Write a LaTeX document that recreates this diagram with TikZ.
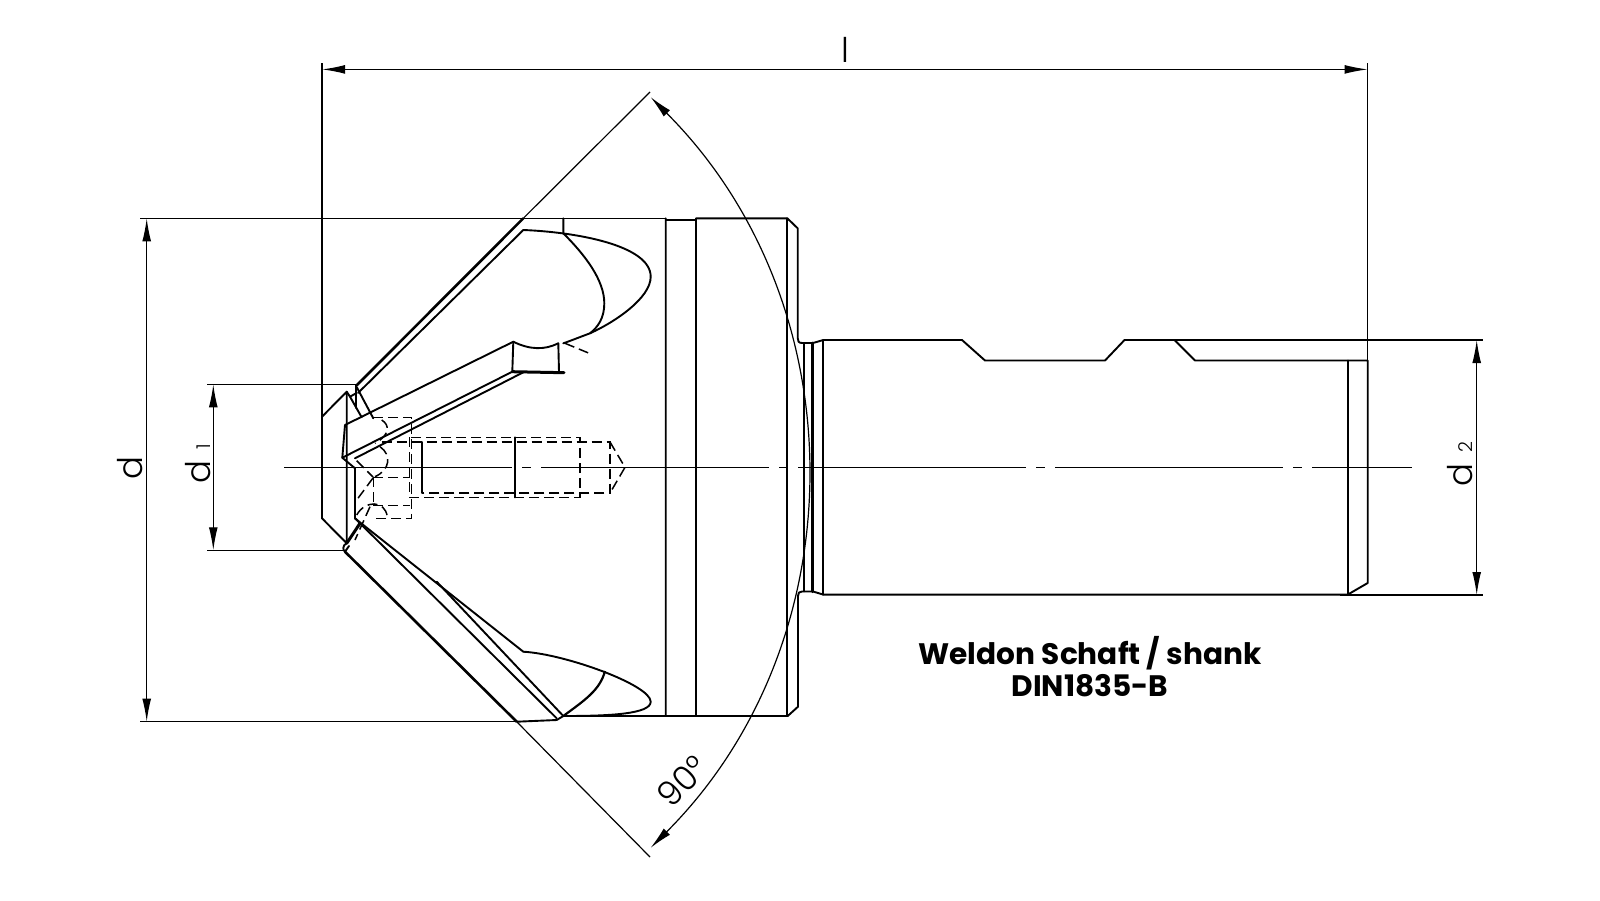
\documentclass[tikz,border=0pt]{standalone}
\usepackage{fontspec}
\setmainfont{Poppins}
\newfontfamily\lightfont{Poppins Light}
\usetikzlibrary{arrows.meta}
\tikzset{
  part/.style={line width=0.95pt,line join=round,line cap=round},
  heavy/.style={line width=1.5pt,line cap=round},
  dim/.style={line width=0.6pt},
  dimarrow/.style={dim,{Latex[length=11.5pt,width=4.4pt]}-{Latex[length=11.5pt,width=4.4pt]}},
  hidden/.style={line width=0.75pt,dash pattern=on 5pt off 2.5pt},
  axis/.style={line width=0.6pt,dash pattern=on 114pt off 5pt on 4.5pt off 5pt},
  dimlabel/.style={font=\lightfont\fontsize{17}{17}\selectfont,inner sep=0pt},
  caption/.style={font=\bfseries\fontsize{14.8}{16}\selectfont,inner sep=0pt}
}
\begin{document}
\begin{tikzpicture}[x=0.5pt,y=-0.5pt]
\useasboundingbox (0,0) rectangle (1600,900);
% reference points
\coordinate (lL) at (322,69.4);
\coordinate (lR) at (1367.7,69.4);
\coordinate (dT) at (146.7,218.3);
\coordinate (dB) at (146.7,721.7);
\coordinate (d1T) at (213.3,384.3);
\coordinate (d1B) at (213.3,550.3);
\coordinate (d2T) at (1476.7,340);
\coordinate (d2B) at (1476.7,595);
% axis
\draw[axis] (284,467.3) -- (1412,467.3);
% body
\draw[part] (665.7,218.3) -- (665.7,716) -- (696,716) -- (696,218.3) -- (787.3,218.3) -- (797.7,228.3) -- (797.7,338) .. controls (797.7,341) and (798.5,343) .. (802,343) -- (813,343) -- (823.3,340) -- (962,340) -- (985,360.5) -- (1105,360.5) -- (1124.5,340) -- (1174.5,340) -- (1195,360.5) -- (1367.7,360.5) -- (1367.7,583) -- (1347.7,594.6) -- (823.3,594.6) -- (813,591.5) -- (802,591.5) .. controls (799,591.5) and (798,593) .. (798,596) -- (798,706.7) -- (787.7,716) -- (696,716);
\draw[part] (665.7,220) -- (696,220);
\draw[part] (787.3,218.3) -- (787.3,716);
\draw[part] (1347.7,360.5) -- (1347.7,594.6);
\draw[part] (804.3,343) -- (804.3,591.5);
\draw[heavy] (812.3,343) -- (812.3,591.5);
\draw[part] (823.3,340) -- (823.3,594.6);
% upper flute
\draw[part] (523.3,230) .. controls (575,232) and (650.7,245) .. (650.7,276.7) .. controls (650.7,298) and (615,322) .. (590,333.3) .. controls (580,337) and (570,341) .. (563.3,343.3);
\draw[part] (558.3,343.3) .. controls (545,350) and (530,350) .. (513.3,341.7);
\draw[part] (563.3,218.3) -- (563.3,233.3) .. controls (585,255) and (604.3,280) .. (604.3,303.3) .. controls (604.3,318) and (598,327) .. (590,333.3);
\draw[part] (513.3,341.7) -- (512.3,371.7);
\draw[part] (558.3,343.3) -- (559,372);
\draw[heavy] (512.3,371.7) -- (564,372.7);
\draw[hidden] (565,343.3) -- (591.7,354.3);
% upper blade
\draw[part] (513.3,341.7) -- (345,425) -- (342.3,457.7) -- (512.3,371.7);
\draw[part] (355,458.3) -- (523.3,372.3);
\draw[part] (342.3,457.7) -- (355,468.3) -- (355,518.3);
\draw[part] (523.3,230) -- (358,393);
\draw[line width=1.3pt] (356.7,385.3) -- (523.3,218.3);
% tip
\draw[part] (322,416.7) -- (346.7,391.7) -- (346.7,543.3) -- (322,518.3) -- (322,416.7);
\draw[part] (356,385) -- (356,408);
\draw[part] (356.5,386.7) -- (373.3,418.3);
\draw[part] (346.7,391.7) -- (350,396.7) -- (356,393.3);
\draw[part] (350,396.7) -- (361.7,417.3);
\draw[heavy] (346.7,543.3) -- (360,523.3);
\draw[part] (346.7,543.3) .. controls (342,545) and (343,551) .. (345,551.7) -- (349,546);
% lower blade
\draw[part] (355,518.3) -- (363.3,525) -- (523.3,651.7);
\draw[part] (355,518.3) -- (556.7,718.3);
\draw[part] (436.7,581.7) -- (563.3,716);
\draw[line width=1.3pt] (345,551.7) -- (516.7,721.7);
\draw[part] (516.7,721.7) -- (556.7,720) -- (563.3,716);
% lower flute
\draw[part] (523.3,651.7) .. controls (565,654) and (650.7,685) .. (650.7,701.7) .. controls (650.7,714) and (610,716) .. (563.3,716);
\draw[part] (563.3,716) -- (665.7,716);
\draw[line width=1.1pt] (563.3,716) .. controls (585,700) and (600,690) .. (605,671);
% hidden detail
\draw[hidden] (409.3,437.3) rectangle (580,497.3);
\draw[hidden] (381.7,442) -- (610,442) -- (610,493) -- (421.7,493);
\draw[part] (421.7,442) -- (421.7,493);
\draw[part] (515,437.3) -- (515,497.3);
\draw[hidden] (610,442) -- (625,467.3) -- (610,493);
\draw[hidden] (373.3,417.3) -- (411.7,417.3) -- (411.7,518.3) -- (373.3,518.3);
\draw[hidden] (373.3,477.3) -- (410,477.3);
\draw[hidden] (373.3,505.7) -- (410,505.7);
\draw[hidden] (373.3,477.3) -- (373.3,505.7);
\draw[hidden] (381.7,420) .. controls (390,425) and (390,435) .. (375,443.3);
\draw[hidden] (380,446.7) .. controls (392,455) and (390,470) .. (375,476.7);
\draw[hidden] (356.7,460.7) -- (373,477);
\draw[hidden] (373,478) -- (356.7,500);
\draw[hidden] (356.7,515) .. controls (365,500) and (385,500) .. (387.3,516.7);
\draw[hidden] (370,506.7) -- (355,540);
% extension lines
\draw[dim] (322,63) -- (322,416.7);
\draw[dim] (1367.7,63) -- (1367.7,360.5);
\draw[dim] (140,218.3) -- (665.7,218.3);
\draw[dim] (140,721.7) -- (516.7,721.7);
\draw[dim] (207,384.3) -- (356,384.3);
\draw[dim] (207,550.3) -- (345,550.3);
\draw[dim] (1174,340) -- (1483,340);
\draw[dim] (1340,595) -- (1483,595);
\draw[dim] (523.3,218.3) -- (650,92);
\draw[dim] (516.7,721.7) -- (650,857);
% dimension lines
\draw[dimarrow] (lL) -- (lR);
\draw[dimarrow] (dT) -- (dB);
\draw[dimarrow] (d1T) -- (d1B);
\draw[dimarrow] (d2T) -- (d2B);
\draw[dimarrow] (650.5,97) arc[start angle=-45,end angle=45,radius=531];
% labels
\node[dimlabel] (ll) at (845,50) {l};
\node[dimlabel,rotate=90] (ld) at (130,468) {d};
\node[dimlabel,rotate=90] (ld1) at (198,464) {d\,{\fontsize{9.5}{9.5}\selectfont\ 1}};
\node[dimlabel,rotate=90] (ld2) at (1460,464) {d\,{\fontsize{9.5}{9.5}\selectfont\ 2}};
\node[dimlabel,rotate=45] (la) at (682,781) {90°};
\node[caption] (c1) at (1090,653) {Weldon Schaft / shank};
\node[caption] (c2) at (1090,686) {DIN1835-B};
\end{tikzpicture}
\end{document}
